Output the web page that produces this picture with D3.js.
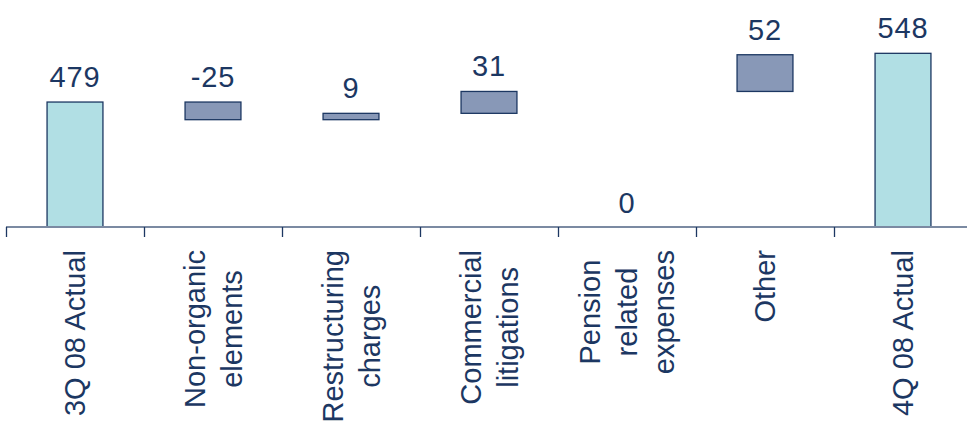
<!DOCTYPE html>
<html>
<head>
<meta charset="utf-8">
<script src="https://cdn.jsdelivr.net/npm/d3@7"></script>
<style>
  html, body { margin: 0; padding: 0; background: #ffffff; }
  svg { display: block; font-family: "Liberation Sans", Arial, sans-serif; }
</style>
</head>
<body>
<svg id="chart" width="967" height="424"></svg>
<script>
// Bridge from 3Q 08 to 4Q 08 actual
const categories = [
  "3Q 08 Actual",
  "Non-organic elements",
  "Restructuring charges",
  "Commercial litigations",
  "Pension related expenses",
  "Other",
  "4Q 08 Actual"
];
const categoryLines = [
  ["3Q 08 Actual"],
  ["Non-organic", "elements"],
  ["Restructuring", "charges"],
  ["Commercial", "litigations"],
  ["Pension", "related", "expenses"],
  ["Other"],
  ["4Q 08 Actual"]
];
const values = [479, -25, 9, 31, 0, 52, 548];
const kinds = ["total", "delta", "delta", "delta", "delta", "delta", "total"];
const valueLabels = ["479", "-25", "9", "31", "0", "52", "548"];

// Build the floating segments of the waterfall
let running = 0;
const bars = categories.map((c, i) => {
  let lo, hi;
  if (kinds[i] === "total") {
    lo = null; hi = values[i]; running = values[i];
  } else {
    const start = running;
    running = running + values[i];
    lo = Math.min(start, running); hi = Math.max(start, running);
  }
  return { cat: c, i, lo, hi, kind: kinds[i], label: valueLabels[i], value: values[i] };
});

const svg = d3.select("#chart");
const axisY = 227;

const x = d3.scaleBand()
  .domain(categories)
  .range([6, 972])
  .paddingInner(0)
  .paddingOuter(0);

// value axis starts above zero (broken axis), so totals rise from the baseline
const y = d3.scaleLinear()
  .domain([302, 600])
  .range([axisY, axisY - 298 * 0.706]);

const barW = x.bandwidth() * 0.405;
const navy = "#1c3762";

// bars
svg.append("g").selectAll("rect")
  .data(bars.filter(d => d.hi !== d.lo))
  .join("rect")
  .attr("x", d => x(d.cat) + x.bandwidth() / 2 - barW / 2)
  .attr("width", barW)
  .attr("y", d => y(d.hi))
  .attr("height", d => (d.lo === null ? y.range()[0] : y(d.lo)) - y(d.hi))
  .attr("fill", d => d.kind === "total" ? "#b1dfe4" : "#8898b7")
  .attr("stroke", navy)
  .attr("stroke-width", 1.3);

// category axis
const axis = svg.append("g");
axis.append("line")
  .attr("x1", 6).attr("x2", 967)
  .attr("y1", axisY).attr("y2", axisY)
  .attr("stroke", "#7b8aa2")
  .attr("stroke-width", 2);
axis.selectAll("line.tick")
  .data(categories)
  .join("line")
  .attr("class", "tick")
  .attr("x1", d => Math.round(x(d)) + 0.5)
  .attr("x2", d => Math.round(x(d)) + 0.5)
  .attr("y1", axisY)
  .attr("y2", axisY + 10)
  .attr("stroke", navy)
  .attr("stroke-width", 1.3);

// value labels
svg.append("g").selectAll("text")
  .data(bars)
  .join("text")
  .attr("x", d => x(d.cat) + x.bandwidth() / 2)
  .attr("y", d => (d.hi === d.lo ? y.range()[0] - 14 : y(d.hi) - 15))
  .attr("text-anchor", "middle")
  .attr("font-size", 29)
  .attr("letter-spacing", 0.8)
  .attr("fill", navy)
  .text(d => d.label);

// rotated, multi-line category labels, anchored just below the axis
const labelTop = 250;
const lineGap = 37;
categoryLines.forEach((lines, i) => {
  const cx = x(categories[i]) + x.bandwidth() / 2;
  const g = svg.append("g");
  const texts = lines.map(l => g.append("text")
    .attr("font-size", 29)
    .attr("fill", navy)
    .attr("text-anchor", "middle")
    .text(l));
  const maxW = d3.max(texts, t => t.node().getComputedTextLength());
  const cy = labelTop + maxW / 2;
  texts.forEach((t, k) => {
    const bx = cx + (k - (lines.length - 1) / 2) * lineGap + 10;
    t.attr("transform", `translate(${bx},${cy}) rotate(-90)`);
  });
});
</script>
</body>
</html>
